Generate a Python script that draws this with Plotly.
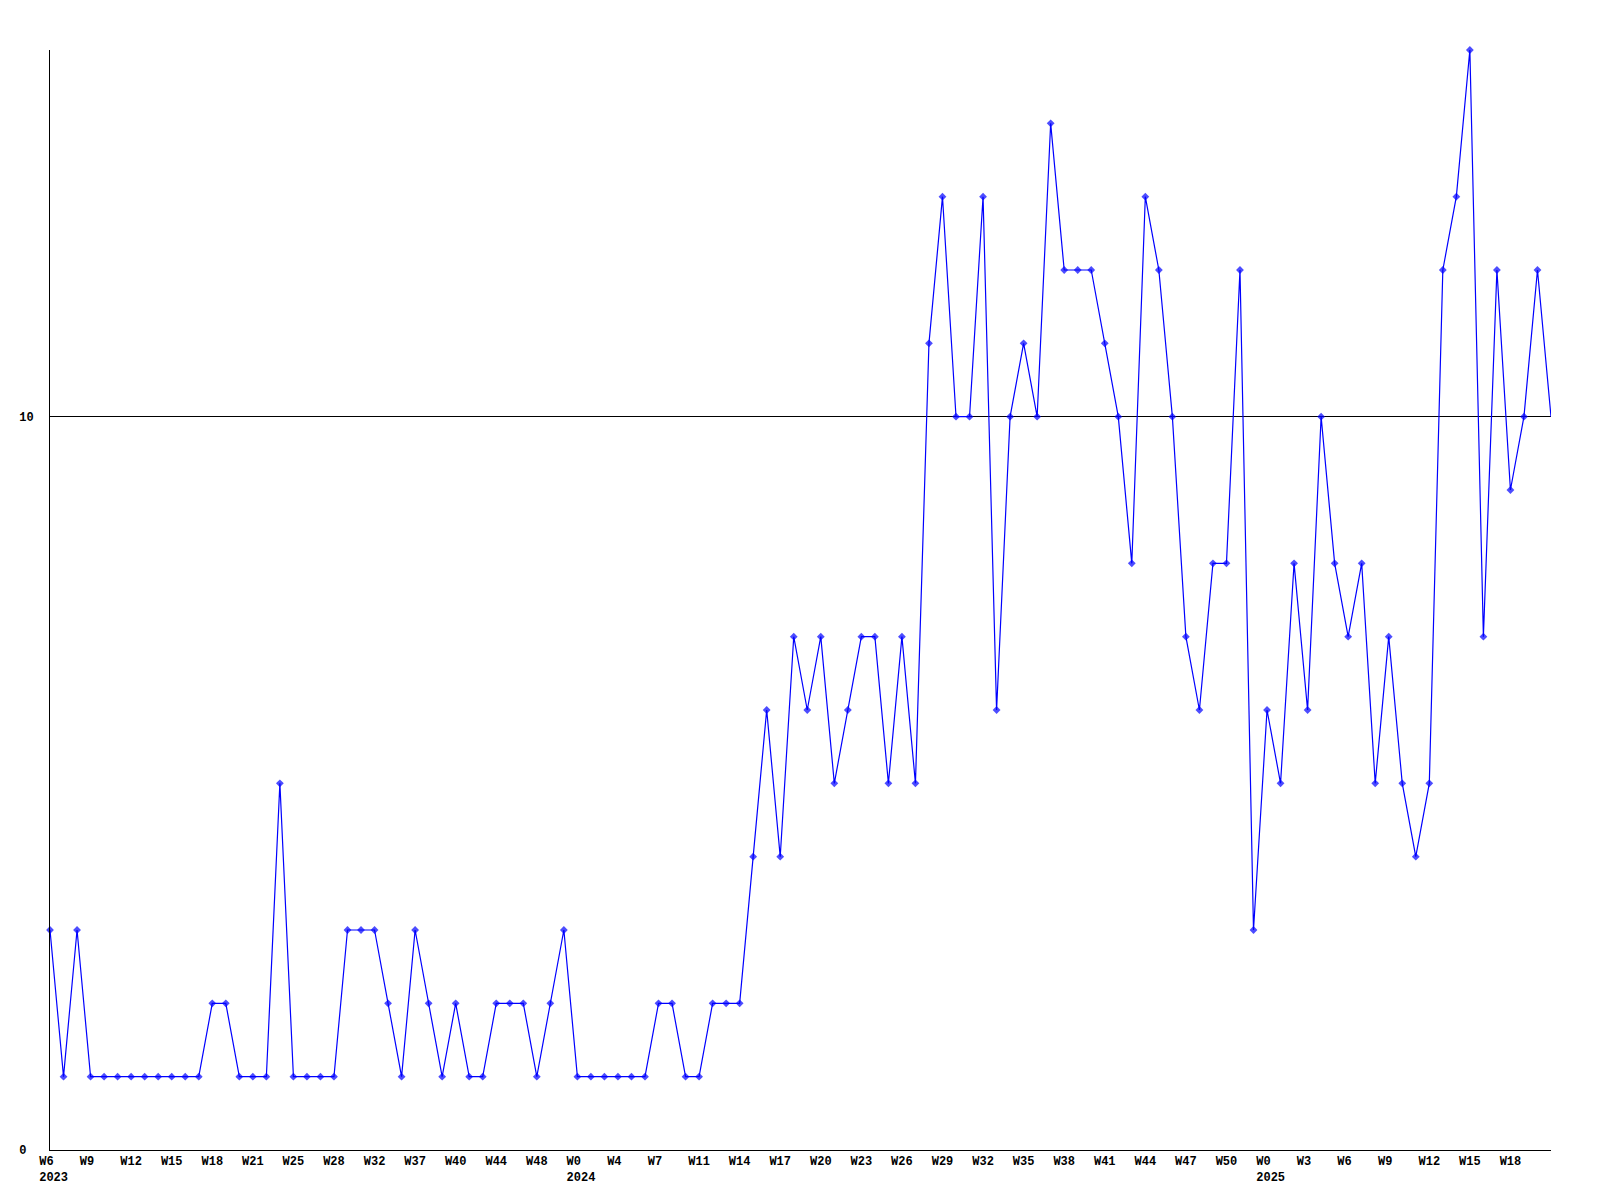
import plotly.graph_objects as go

NB = "\u00a0"

# Weekly values (one per data point)
values = [
    3, 1, 3, 1, 1, 1, 1, 1, 1, 1, 1, 1, 2, 2, 1, 1, 1, 5, 1, 1,
    1, 1, 3, 3, 3, 2, 1, 3, 2, 1, 2, 1, 1, 2, 2, 2, 1, 2, 3, 1,
    1, 1, 1, 1, 1, 2, 2, 1, 1, 2, 2, 2, 4, 6, 4, 7, 6, 7, 5, 6,
    7, 7, 5, 7, 5, 11, 13, 10, 10, 13, 6, 10, 11, 10, 14, 12, 12, 12, 11, 10,
    8, 13, 12, 10, 7, 6, 8, 8, 12, 3, 6, 5, 8, 6, 10, 8, 7, 8, 5, 7,
    5, 4, 5, 12, 13, 15, 7, 12, 9, 10, 12, 10,
]

# Week labels shown on every third point
week_labels = [
    "W6", "W9", "W12", "W15", "W18", "W21", "W25", "W28", "W32", "W37",
    "W40", "W44", "W48", "W0", "W4", "W7", "W11", "W14", "W17", "W20",
    "W23", "W26", "W29", "W32", "W35", "W38", "W41", "W44", "W47", "W50",
    "W0", "W3", "W6", "W9", "W12", "W15", "W18",
]
# Year shown under the week label with this label index
year_at = {0: "2023", 13: "2024", 30: "2025"}
tick_step = 3

y_ticks = [0, 10]
y_labels = ["0", "10"]

n = len(values)
xs = list(range(n))
marker_sizes = [6] * (n - 1) + [0]

# Pad labels so they sit slightly left-aligned like the original
tick_text = []
for i, w in enumerate(week_labels):
    t = w.ljust(3, NB)
    if i in year_at:
        t += "<br>" + NB + year_at[i]
    tick_text.append(t)
y_tick_text = [s.ljust(2, NB) for s in y_labels]

FONT = "Liberation Mono, DejaVu Sans Mono, monospace"
tick_font = dict(family=FONT, size=12, color="black", weight="bold")

fig = go.Figure()
fig.add_trace(go.Scatter(
    x=xs, y=values, mode="lines+markers",
    line=dict(color="#0000ff", width=1.2),
    marker=dict(symbol="diamond", size=marker_sizes, color="#0000ff", line=dict(width=0)),
    cliponaxis=False, showlegend=False, hoverinfo="x+y",
))

fig.update_layout(
    width=1592, height=1192,
    margin=dict(l=42, r=49, t=42, b=50, autoexpand=False),
    paper_bgcolor="white", plot_bgcolor="white",
    font=tick_font,
    showlegend=False,
)
fig.update_xaxes(
    range=[0, n - 1],
    tickmode="array",
    tickvals=xs[::tick_step][:len(tick_text)],
    ticktext=tick_text,
    showgrid=False, zeroline=False,
    showline=True, linecolor="black", linewidth=1,
    ticks="", ticklen=0, automargin=False,
    tickfont=tick_font,
)
fig.update_yaxes(
    range=[0, 15],
    tickmode="array", tickvals=y_ticks, ticktext=y_tick_text,
    showgrid=True, gridcolor="black", gridwidth=1,
    zeroline=False,
    showline=True, linecolor="black", linewidth=1,
    ticks="", ticklabelstandoff=13, automargin=False,
    tickfont=tick_font,
)

fig.write_html("out.html")
